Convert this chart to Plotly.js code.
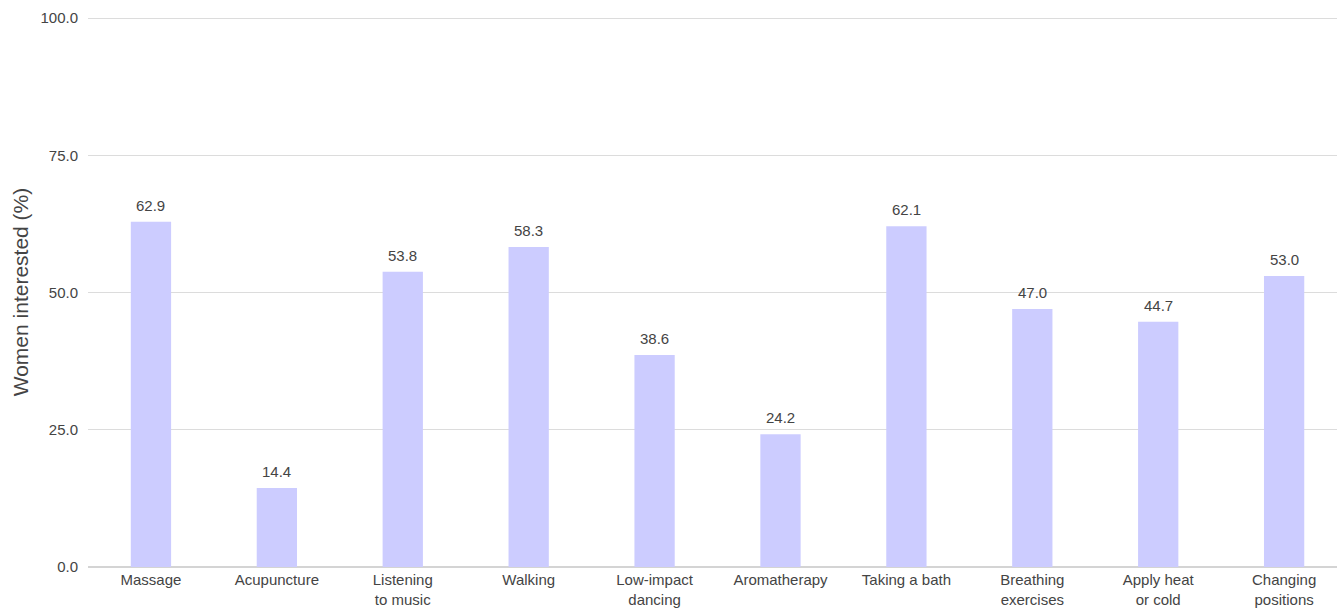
<!DOCTYPE html>
<html>
<head>
<meta charset="utf-8">
<script src="https://cdn.plot.ly/plotly-3.0.1.min.js"></script>
<style>
  html, body { margin: 0; padding: 0; background: #fff; }
  #chart { width: 1337px; height: 608px; }
</style>
</head>
<body>
<div id="chart"></div>
<script>
// Pain-relief methods and share of women interested in each
const categories = [
  "Massage", "Acupuncture", "Listening<br>to music", "Walking",
  "Low-impact<br>dancing", "Aromatherapy", "Taking a bath",
  "Breathing<br>exercises", "Apply heat<br>or cold", "Changing<br>positions"
];
const interested = [62.9, 14.4, 53.8, 58.3, 38.6, 24.2, 62.1, 47.0, 44.7, 53.0];
const yTicks = [0, 25, 50, 75, 100];

const FONT = "Liberation Sans, Arial, sans-serif";
const TEXT = "#444";

const trace = {
  type: "bar",
  x: categories,
  y: interested,
  width: 0.32,
  marker: { color: "#ccccff" },
  hoverinfo: "x+y"
};

// value labels sitting a little above each bar
const valueLabels = categories.map((c, i) => ({
  x: c,
  y: interested[i],
  xref: "x",
  yref: "y",
  text: interested[i].toFixed(1),
  showarrow: false,
  yanchor: "bottom",
  yshift: 6,
  font: { family: FONT, size: 15, color: TEXT }
}));

const layout = {
  width: 1337,
  height: 608,
  margin: { l: 88, r: 0, t: 17, b: 41 },
  paper_bgcolor: "#fff",
  plot_bgcolor: "#fff",
  showlegend: false,
  font: { family: FONT, color: TEXT },
  annotations: valueLabels,
  xaxis: {
    range: [-0.5, 9.42],
    showgrid: false,
    zeroline: false,
    showline: false,
    ticks: "",
    ticklabelstandoff: 2,
    tickfont: { size: 15, color: TEXT }
  },
  yaxis: {
    range: [0, 100.2],
    tickvals: yTicks,
    tickformat: ".1f",
    showgrid: true,
    gridcolor: "#dcdcdc",
    gridwidth: 1,
    zeroline: true,
    zerolinecolor: "#d4d4d4",
    zerolinewidth: 2,
    ticks: "",
    ticklabelstandoff: 9,
    tickfont: { size: 15, color: TEXT },
    title: { text: "Women interested (%)", font: { size: 21, color: TEXT }, standoff: 6 }
  }
};

Plotly.newPlot("chart", [trace], layout, { displayModeBar: false, staticPlot: true });
</script>
</body>
</html>
